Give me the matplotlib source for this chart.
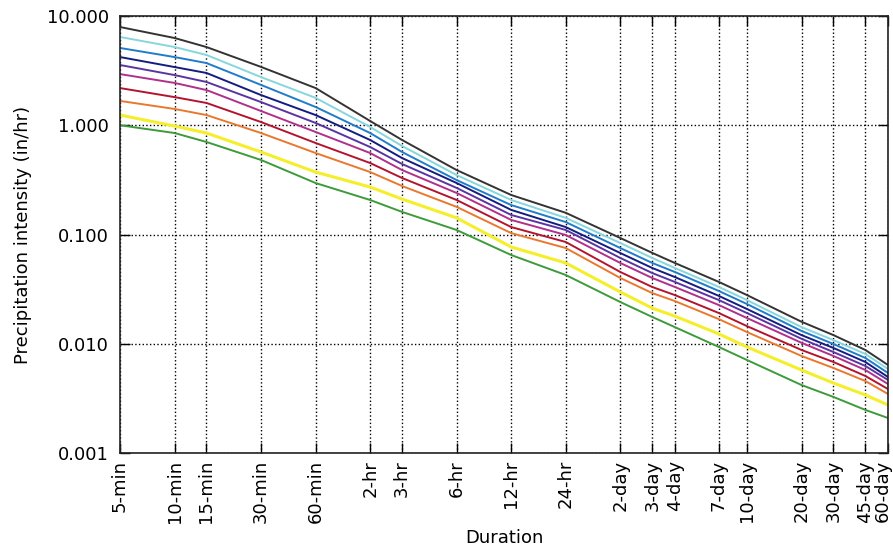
import numpy as np
import matplotlib
matplotlib.use("Agg")
import matplotlib.pyplot as plt
import matplotlib.transforms as mtransforms
from matplotlib.ticker import FixedLocator, FixedFormatter, FormatStrFormatter, NullLocator

# durations in minutes and their tick labels
dur_min = [5, 10, 15, 30, 60, 120, 180, 360, 720, 1440,
           2880, 4320, 5760, 10080, 14400, 28800, 43200, 64800, 86400]
dur_labels = ["5-min", "10-min", "15-min", "30-min", "60-min", "2-hr", "3-hr",
              "6-hr", "12-hr", "24-hr", "2-day", "3-day", "4-day", "7-day",
              "10-day", "20-day", "30-day", "45-day", "60-day"]

# precipitation intensity (in/hr), one series per recurrence interval
ari_1 = [1.00, 0.849, 0.703, 0.481, 0.296, 0.207, 0.161, 0.110, 0.0649, 0.0426,
         0.0241, 0.0176, 0.0142, 0.00934, 0.00710, 0.00419, 0.00326, 0.00248, 0.00209]
ari_2 = [1.24, 0.984, 0.849, 0.569, 0.373, 0.272, 0.211, 0.142, 0.0769, 0.0549,
         0.0298, 0.0212, 0.0179, 0.0123, 0.00934, 0.00575, 0.00437, 0.00340, 0.00275]
ari_5 = [1.67, 1.41, 1.24, 0.849, 0.557, 0.373, 0.278, 0.179, 0.103, 0.0752,
         0.0400, 0.0291, 0.0246, 0.0168, 0.0128, 0.00773, 0.00600, 0.00456, 0.00347]
ari_10 = [2.19, 1.81, 1.60, 1.07, 0.688, 0.451, 0.329, 0.207, 0.117, 0.0854,
          0.0454, 0.0331, 0.0279, 0.0191, 0.0145, 0.00877, 0.00681, 0.00507, 0.00385]
ari_25 = [2.94, 2.44, 2.10, 1.35, 0.868, 0.557, 0.389, 0.240, 0.136, 0.0990,
          0.0549, 0.0400, 0.0331, 0.0226, 0.0172, 0.0102, 0.00773, 0.00575, 0.00428]
ari_50 = [3.56, 2.88, 2.49, 1.63, 1.05, 0.632, 0.442, 0.267, 0.151, 0.110,
          0.0610, 0.0444, 0.0368, 0.0251, 0.0191, 0.0111, 0.00840, 0.00626, 0.00466]
ari_100 = [4.21, 3.41, 3.01, 1.89, 1.24, 0.733, 0.501, 0.296, 0.168, 0.117,
           0.0677, 0.0494, 0.0408, 0.0274, 0.0208, 0.0120, 0.00915, 0.00681, 0.00496]
ari_200 = [5.10, 4.21, 3.71, 2.34, 1.47, 0.849, 0.569, 0.315, 0.186, 0.130,
           0.0752, 0.0549, 0.0454, 0.0304, 0.0231, 0.0131, 0.00995, 0.00741, 0.00540]
ari_500 = [6.43, 5.20, 4.40, 2.76, 1.78, 0.964, 0.646, 0.350, 0.207, 0.142,
           0.0836, 0.0610, 0.0494, 0.0331, 0.0251, 0.0142, 0.0108, 0.00806, 0.00587]
ari_1000 = [7.93, 6.29, 5.20, 3.42, 2.19, 1.094, 0.733, 0.389, 0.230, 0.158,
            0.0929, 0.0679, 0.0549, 0.0368, 0.0279, 0.0159, 0.0120, 0.00877, 0.00639]

series = [ari_1, ari_2, ari_5, ari_10, ari_25, ari_50, ari_100, ari_200, ari_500, ari_1000]
colors = ["#3d9b3a", "#f4ef2a", "#e9782e", "#b3142f", "#b0308c",
          "#5a34a4", "#141c82", "#1f7ccc", "#86d6de", "#333333"]

fig = plt.figure(figsize=(8.93, 5.54), dpi=100)
ax = fig.add_axes([0.1344, 0.1823, 0.8600, 0.7888])

for vals, c in zip(series, colors):
    lw = 2.2 if c == "#f4ef2a" else 1.4
    ax.plot(dur_min, vals, color=c, lw=lw)

ax.set_xscale("log")
ax.set_yscale("log")
ax.set_xlim(5, 86400)
ax.set_ylim(0.001, 10)

ax.xaxis.set_major_locator(FixedLocator(dur_min))
ax.xaxis.set_major_formatter(FixedFormatter(dur_labels))
ax.xaxis.set_minor_locator(NullLocator())
ax.yaxis.set_major_locator(FixedLocator([0.001, 0.01, 0.1, 1, 10]))
ax.yaxis.set_major_formatter(FormatStrFormatter("%.3f"))
ax.yaxis.set_minor_locator(NullLocator())

ax.tick_params(direction="in", length=7, width=1, top=True, right=True, labelsize=13)
ax.tick_params(axis="y", pad=8)
ax.tick_params(axis="x", pad=5)
plt.setp(ax.get_xticklabels(), rotation=90)
# nudge the last label so it stays inside the figure
last = ax.get_xticklabels()[-1]
last.set_transform(last.get_transform() + mtransforms.ScaledTranslation(-5 / 100, 0, fig.dpi_scale_trans))

ax.grid(True, which="major", color="black", linestyle=":", linewidth=1)
for s in ax.spines.values():
    s.set_linewidth(1.2)
    s.set_color("#222222")

ax.set_xlabel("Duration", fontsize=13, labelpad=4)
ax.set_ylabel("Precipitation intensity (in/hr)", fontsize=13, labelpad=11)

fig.savefig("out.png", dpi=100)
